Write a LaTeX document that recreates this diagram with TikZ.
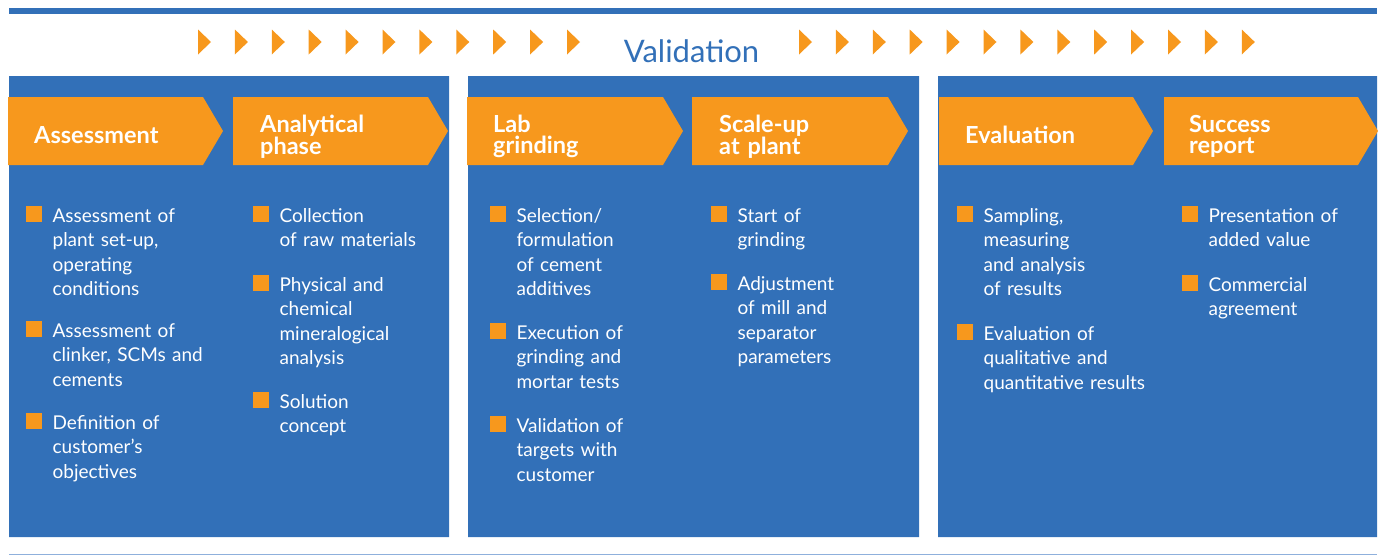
\documentclass[tikz,border=0pt]{standalone}
\usepackage{fontspec}
\setmainfont{Lato}
\definecolor{vblue}{HTML}{3270B8}
\definecolor{vorange}{HTML}{F7981D}
\definecolor{vline}{HTML}{8FB0DC}
\begin{document}
\begin{tikzpicture}[x=1pt,y=-1pt,
    title/.style={anchor=base west,inner sep=0,text=white,align=left,text width=185pt,font=\bfseries\fontsize{23.5}{21}\selectfont},
    item/.style={anchor=base west,inner sep=0,text=white,align=left,text width=200pt,font=\fontsize{19}{24.5}\selectfont},
    box/.style={fill=vorange,minimum size=15.5pt,inner sep=0,anchor=south west}]
    \useasboundingbox (0,0) rectangle (1380,555);
    % rules
    \fill[vblue] (9,8) rectangle (1377,14);
    \draw[vline,line width=1pt] (9,554) -- (1377,554);
    % validation band
    \node[text=vblue,font=\fontsize{31}{31}\selectfont,anchor=base,inner sep=0] (valid) at (691.5,62) {Validation};
    \foreach \i in {0,...,10} \fill[vorange] (198+36.9*\i,29.5) -- ++(13,12.5) -- ++(-13,12.5) -- cycle;
    \foreach \i in {0,...,12} \fill[vorange] (799+36.9*\i,29.5) -- ++(13,12.5) -- ++(-13,12.5) -- cycle;
    % panels
    \fill[vblue]
    (9,76) rectangle (449,537)
    (468,76) rectangle (919,537)
    (938,76) rectangle (1377,537)
    ;
    \foreach \a/\b in {8/203,233/428,467/663,692/888,939/1133,1164/1358}
        \fill[vorange] (\a,97) -- (\b,97) -- (\b+20,131) -- (\b,165) -- (\a,165) -- cycle;
    % stages
    \node[title] (assess) at (34,143) {Assessment};
    \node[title] (analyt) at (260,132) {Analytical\\phase};
    \node[title] (lab) at (493,132) {Lab\\grinding};
    \node[title] (scale) at (719,132) {Scale-up\\at plant};
    \node[title] (evalu) at (965,143) {Evaluation};
    \node[title] (succ) at (1189,132) {Success\\report};
    % assessment / analytical phase
    \node[box] (s11) at (26,222) {};
    \node[item] (t11) at ([xshift=10.5pt]s11.south east) {Assessment of\\plant set-up,\\operating\\conditions};
    \node[box] (s12) at (26,337) {};
    \node[item] (t12) at ([xshift=10.5pt]s12.south east) {Assessment of\\clinker, SCMs and\\cements};
    \node[box] (s13) at (26,429) {};
    \node[item] (t13) at ([xshift=10.5pt]s13.south east) {Definition of\\customer’s\\objectives};
    \node[box] (s21) at (253,222) {};
    \node[item] (t21) at ([xshift=10.5pt]s21.south east) {Collection\\of raw materials};
    \node[box] (s22) at (253,291) {};
    \node[item] (t22) at ([xshift=10.5pt]s22.south east) {Physical and\\chemical\\mineralogical\\analysis};
    \node[box] (s23) at (253,408) {};
    \node[item] (t23) at ([xshift=10.5pt]s23.south east) {Solution\\concept};
    % lab grinding / scale-up
    \node[box] (s31) at (490,222) {};
    \node[item] (t31) at ([xshift=10.5pt]s31.south east) {Selection/\\formulation\\of cement\\additives};
    \node[box] (s32) at (490,339) {};
    \node[item] (t32) at ([xshift=10.5pt]s32.south east) {Execution of\\grinding and\\mortar tests};
    \node[box] (s33) at (490,432) {};
    \node[item] (t33) at ([xshift=10.5pt]s33.south east) {Validation of\\targets with\\customer};
    \node[box] (s41) at (711,222) {};
    \node[item] (t41) at ([xshift=10.5pt]s41.south east) {Start of\\grinding};
    \node[box] (s42) at (711,290) {};
    \node[item] (t42) at ([xshift=10.5pt]s42.south east) {Adjustment\\of mill and\\separator\\parameters};
    % evaluation / success report
    \node[box] (s51) at (957,222) {};
    \node[item] (t51) at ([xshift=10.5pt]s51.south east) {Sampling,\\measuring\\and analysis\\of results};
    \node[box] (s52) at (957,340) {};
    \node[item] (t52) at ([xshift=10.5pt]s52.south east) {Evaluation of\\qualitative and\\quantitative results};
    \node[box] (s61) at (1182,222) {};
    \node[item] (t61) at ([xshift=10.5pt]s61.south east) {Presentation of\\added value};
    \node[box] (s62) at (1182,291) {};
    \node[item] (t62) at ([xshift=10.5pt]s62.south east) {Commercial\\agreement};
\end{tikzpicture}
\end{document}
